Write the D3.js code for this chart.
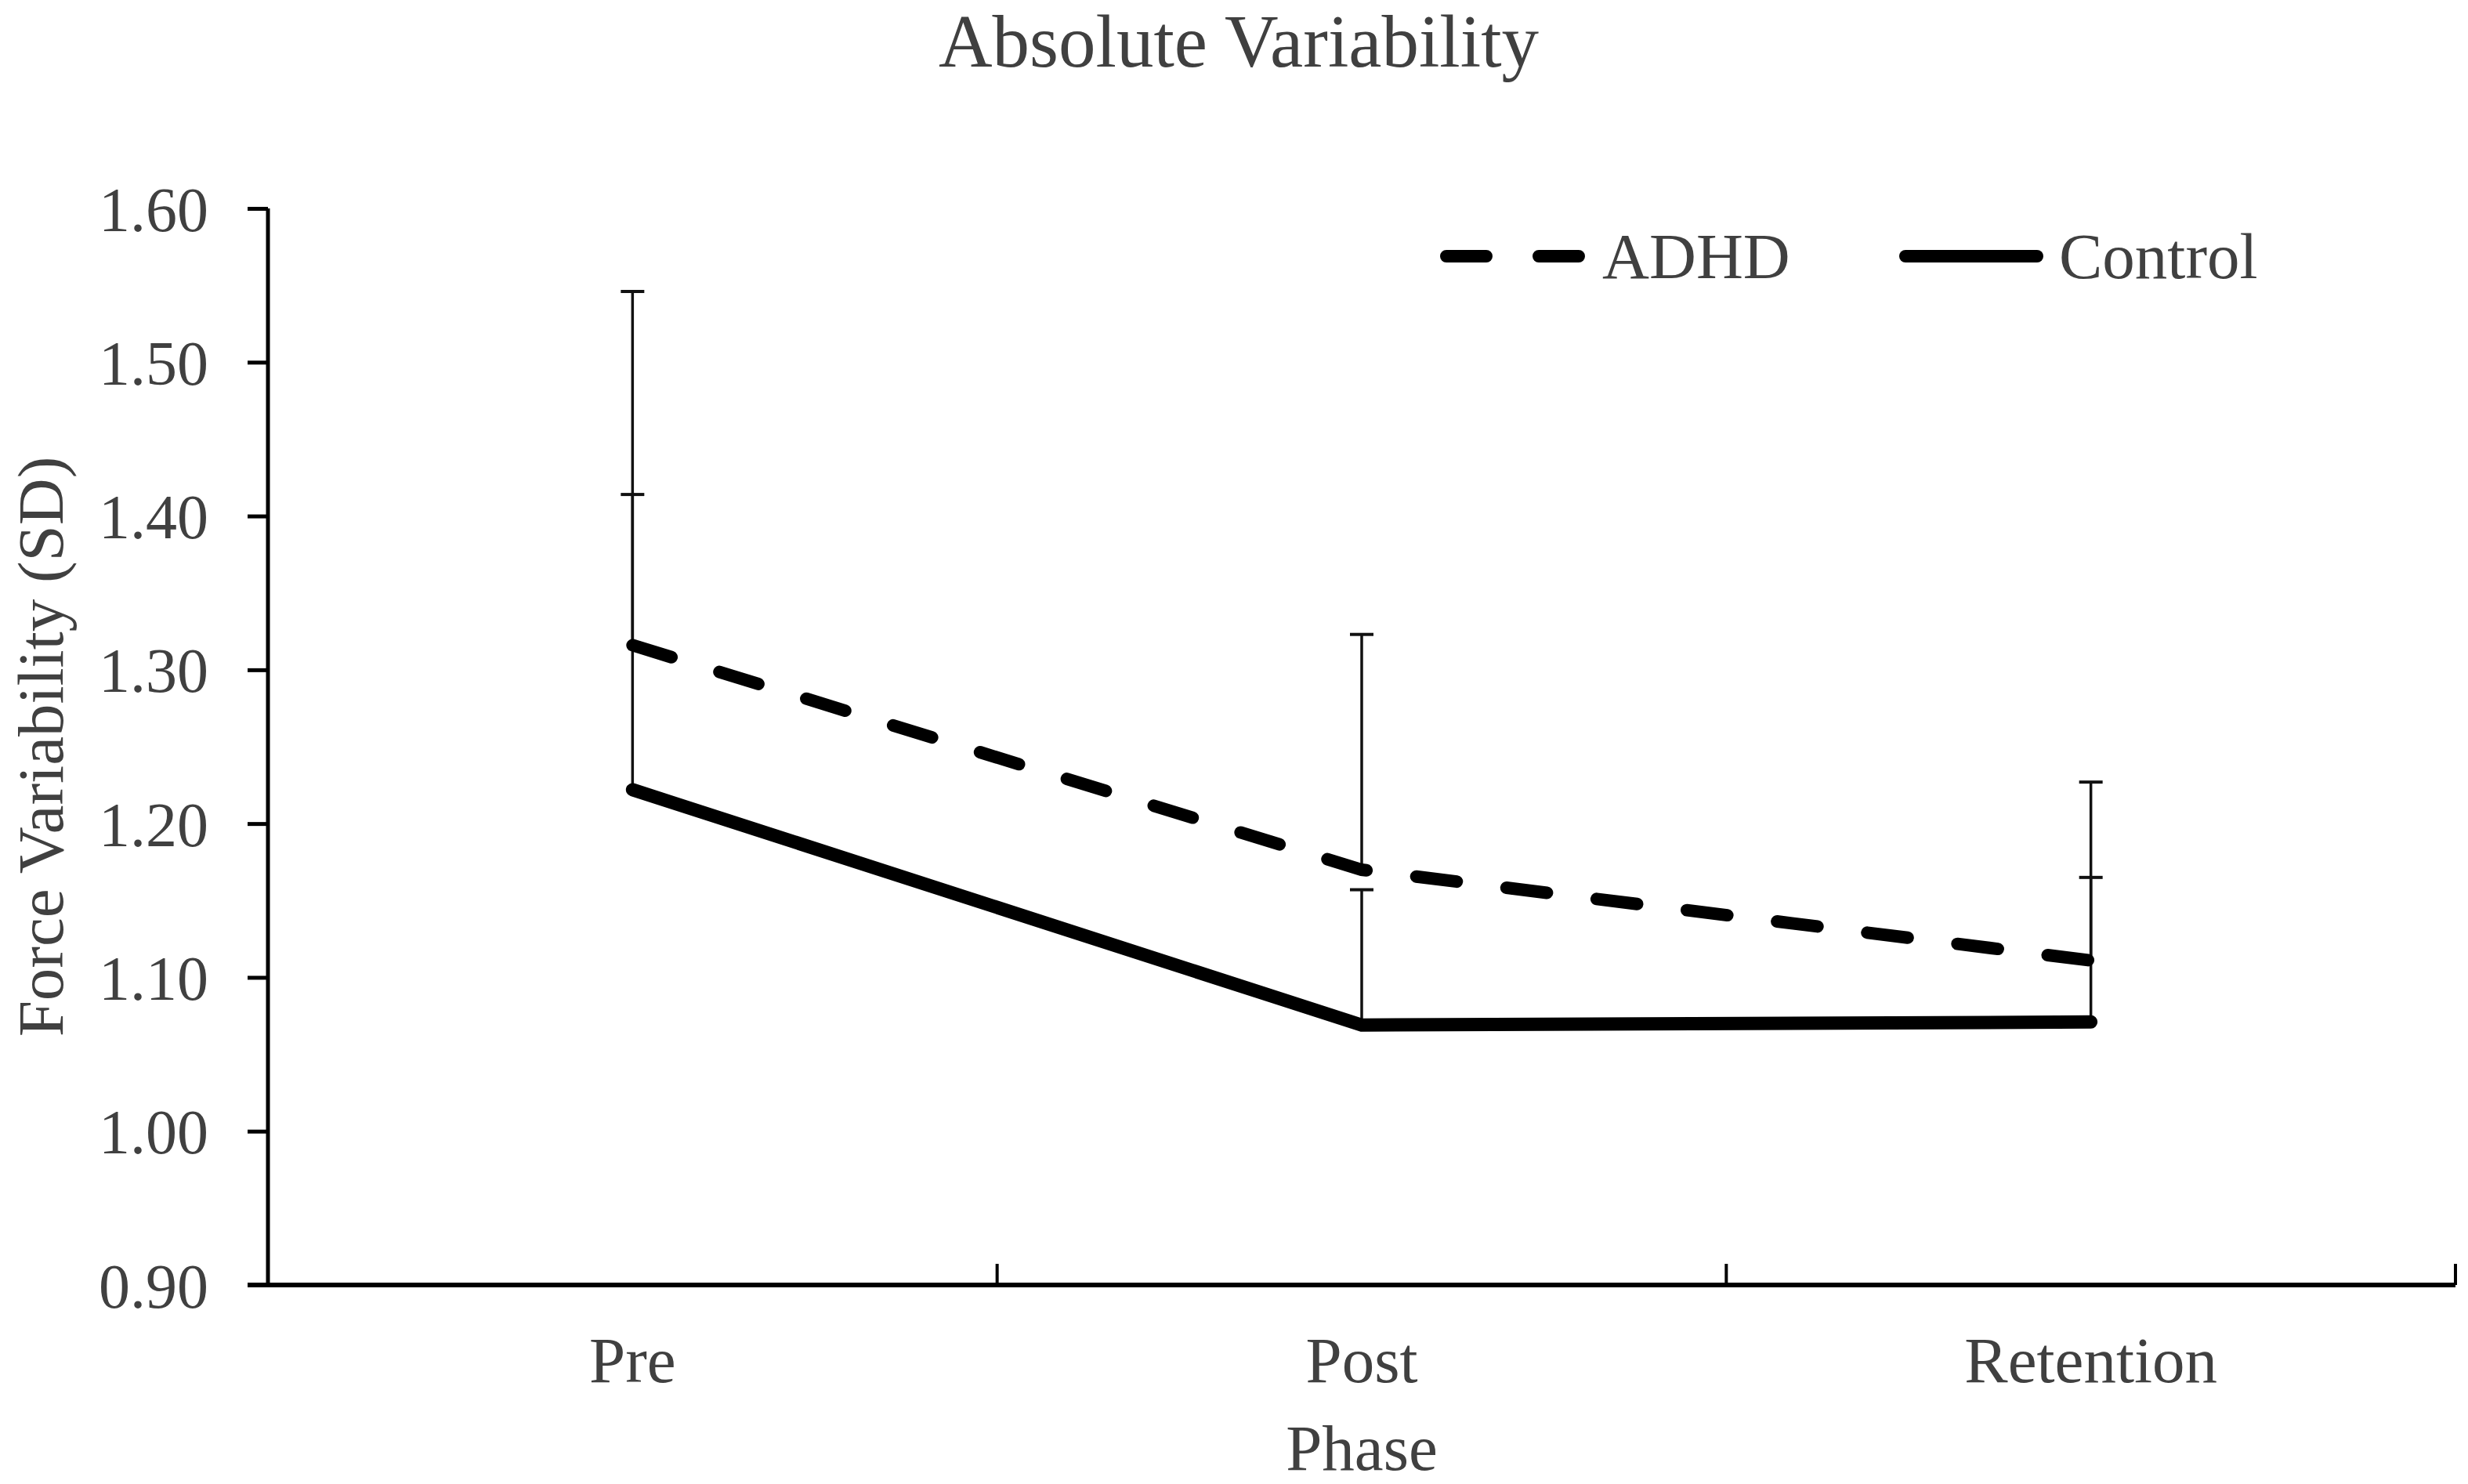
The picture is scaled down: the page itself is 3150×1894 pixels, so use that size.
<!DOCTYPE html>
<html>
<head>
<meta charset="utf-8">
<script src="https://cdn.jsdelivr.net/npm/d3@7"></script>
<style>
  html, body { margin: 0; padding: 0; background: #fff; }
  text { font-family: "Liberation Serif", "DejaVu Serif", serif; fill: #404040; }
</style>
</head>
<body>
<svg id="chart" width="3150" height="1894"></svg>
<script>
// values
var phases = ['Pre', 'Post', 'Retention'];
var adhdMean = [1.316, 1.170, 1.111];
var adhdSD = [0.230, 0.153, 0.116];
var controlMean = [1.222, 1.069, 1.071];
var controlSD = [0.192, 0.088, 0.094];
var yTicks = [0.90, 1.00, 1.10, 1.20, 1.30, 1.40, 1.50, 1.60];
var seriesNames = ['ADHD', 'Control'];

var svg = d3.select('#chart');
var margin = { left: 342, right: 16, top: 266, bottom: 254 };
var width = 3150 - margin.left - margin.right,
  height = 1894 - margin.top - margin.bottom;

var g = svg.append('g')
  .attr('transform', 'translate(' + margin.left + ',' + margin.top + ')');

var x = d3.scaleBand().domain(phases).range([0, width]).padding(0);
var y = d3.scaleLinear().domain([0.9, 1.6]).range([height, 0]);
var cx = function(p) { return x(p) + x.bandwidth() / 2; };

// title
svg.append('text')
  .attr('x', 1581)
  .attr('y', 85)
  .attr('text-anchor', 'middle')
  .style('font-size', '95px')
  .text('Absolute Variability');

// y axis
var yAxis = g.append('g')
  .call(d3.axisLeft(y).tickValues(yTicks).tickFormat(d3.format('.2f')).tickSize(26).tickPadding(50));
yAxis.select('.domain').attr('stroke', '#000').attr('stroke-width', 5).attr('d', 'M0,' + y(1.6) + 'V' + (height + 2));
yAxis.selectAll('.tick line').attr('stroke', '#000').attr('stroke-width', 5);
yAxis.selectAll('.tick text')
  .attr('fill', '#404040')
  .attr('dy', '0.35em')
  .style('font-size', '80px');

// x axis
var xAxis = g.append('g')
  .attr('transform', 'translate(0,' + height + ')')
  .call(d3.axisBottom(x).tickSize(0).tickPadding(0));
xAxis.select('.domain').attr('stroke', '#000').attr('stroke-width', 6).attr('d', 'M-26,0H' + width);
xAxis.selectAll('.tick text')
  .attr('fill', '#404040')
  .attr('y', 124)
  .attr('dy', 0)
  .style('font-size', '83px');
xAxis.selectAll('.sep')
  .data(phases)
  .enter().append('line')
  .attr('class', 'sep')
  .attr('x1', function(d) { return x(d) + x.bandwidth(); })
  .attr('x2', function(d) { return x(d) + x.bandwidth(); })
  .attr('y1', 0)
  .attr('y2', -27)
  .attr('stroke', '#000')
  .attr('stroke-width', 4);

// axis titles
svg.append('text')
  .attr('x', margin.left + width / 2)
  .attr('y', 1876)
  .attr('text-anchor', 'middle')
  .style('font-size', '83px')
  .text('Phase');

svg.append('text')
  .attr('transform', 'translate(80,' + (margin.top + height / 2) + ') rotate(-90)')
  .attr('text-anchor', 'middle')
  .style('font-size', '83px')
  .text('Force Variability (SD)');

// error bars (upper only)
function errorBars(means, sds, cls) {
  var eb = g.append('g').attr('class', cls);
  eb.selectAll('line.stem')
    .data(phases)
    .enter().append('line')
    .attr('class', 'stem')
    .attr('x1', function(d) { return cx(d); })
    .attr('x2', function(d) { return cx(d); })
    .attr('y1', function(d, i) { return y(means[i]); })
    .attr('y2', function(d, i) { return y(means[i] + sds[i]); })
    .attr('stroke', '#111')
    .attr('stroke-width', 3.5);
  eb.selectAll('line.cap')
    .data(phases)
    .enter().append('line')
    .attr('class', 'cap')
    .attr('x1', function(d) { return cx(d) - 15; })
    .attr('x2', function(d) { return cx(d) + 15; })
    .attr('y1', function(d, i) { return y(means[i] + sds[i]); })
    .attr('y2', function(d, i) { return y(means[i] + sds[i]); })
    .attr('stroke', '#111')
    .attr('stroke-width', 4);
}
errorBars(controlMean, controlSD, 'control-err');
errorBars(adhdMean, adhdSD, 'adhd-err');

// lines
var line = d3.line()
  .x(function(d) { return cx(d.p); })
  .y(function(d) { return y(d.v); });

function toPoints(vals) {
  return phases.map(function(p, i) { return { p: p, v: vals[i] }; });
}

g.append('path')
  .datum(toPoints(controlMean))
  .attr('d', line)
  .attr('fill', 'none')
  .attr('stroke', '#000')
  .attr('stroke-width', 17)
  .attr('stroke-linecap', 'round')
  .attr('stroke-linejoin', 'miter');

g.append('path')
  .datum(toPoints(adhdMean))
  .attr('d', line)
  .attr('fill', 'none')
  .attr('stroke', '#000')
  .attr('stroke-width', 16)
  .attr('stroke-dasharray', '52,64')
  .attr('stroke-linecap', 'round');

// legend
var legend = svg.append('g').attr('transform', 'translate(0,327)');
var legendX = [1846, 2432];
legend.selectAll('path.key')
  .data(seriesNames)
  .enter().append('path')
  .attr('class', 'key')
  .attr('d', function(d, i) { return 'M' + legendX[i] + ',0H' + (legendX[i] + (i === 0 ? 169 : 168)); })
  .attr('stroke', '#000')
  .attr('stroke-width', 16)
  .attr('stroke-linecap', 'round')
  .attr('stroke-dasharray', function(d, i) { return i === 0 ? '51,67' : null; });
legend.selectAll('text')
  .data(seriesNames)
  .enter().append('text')
  .attr('x', function(d, i) { return i === 0 ? 2045 : 2628; })
  .attr('y', 28)
  .style('font-size', '83px')
  .text(function(d) { return d; });
</script>
</body>
</html>
